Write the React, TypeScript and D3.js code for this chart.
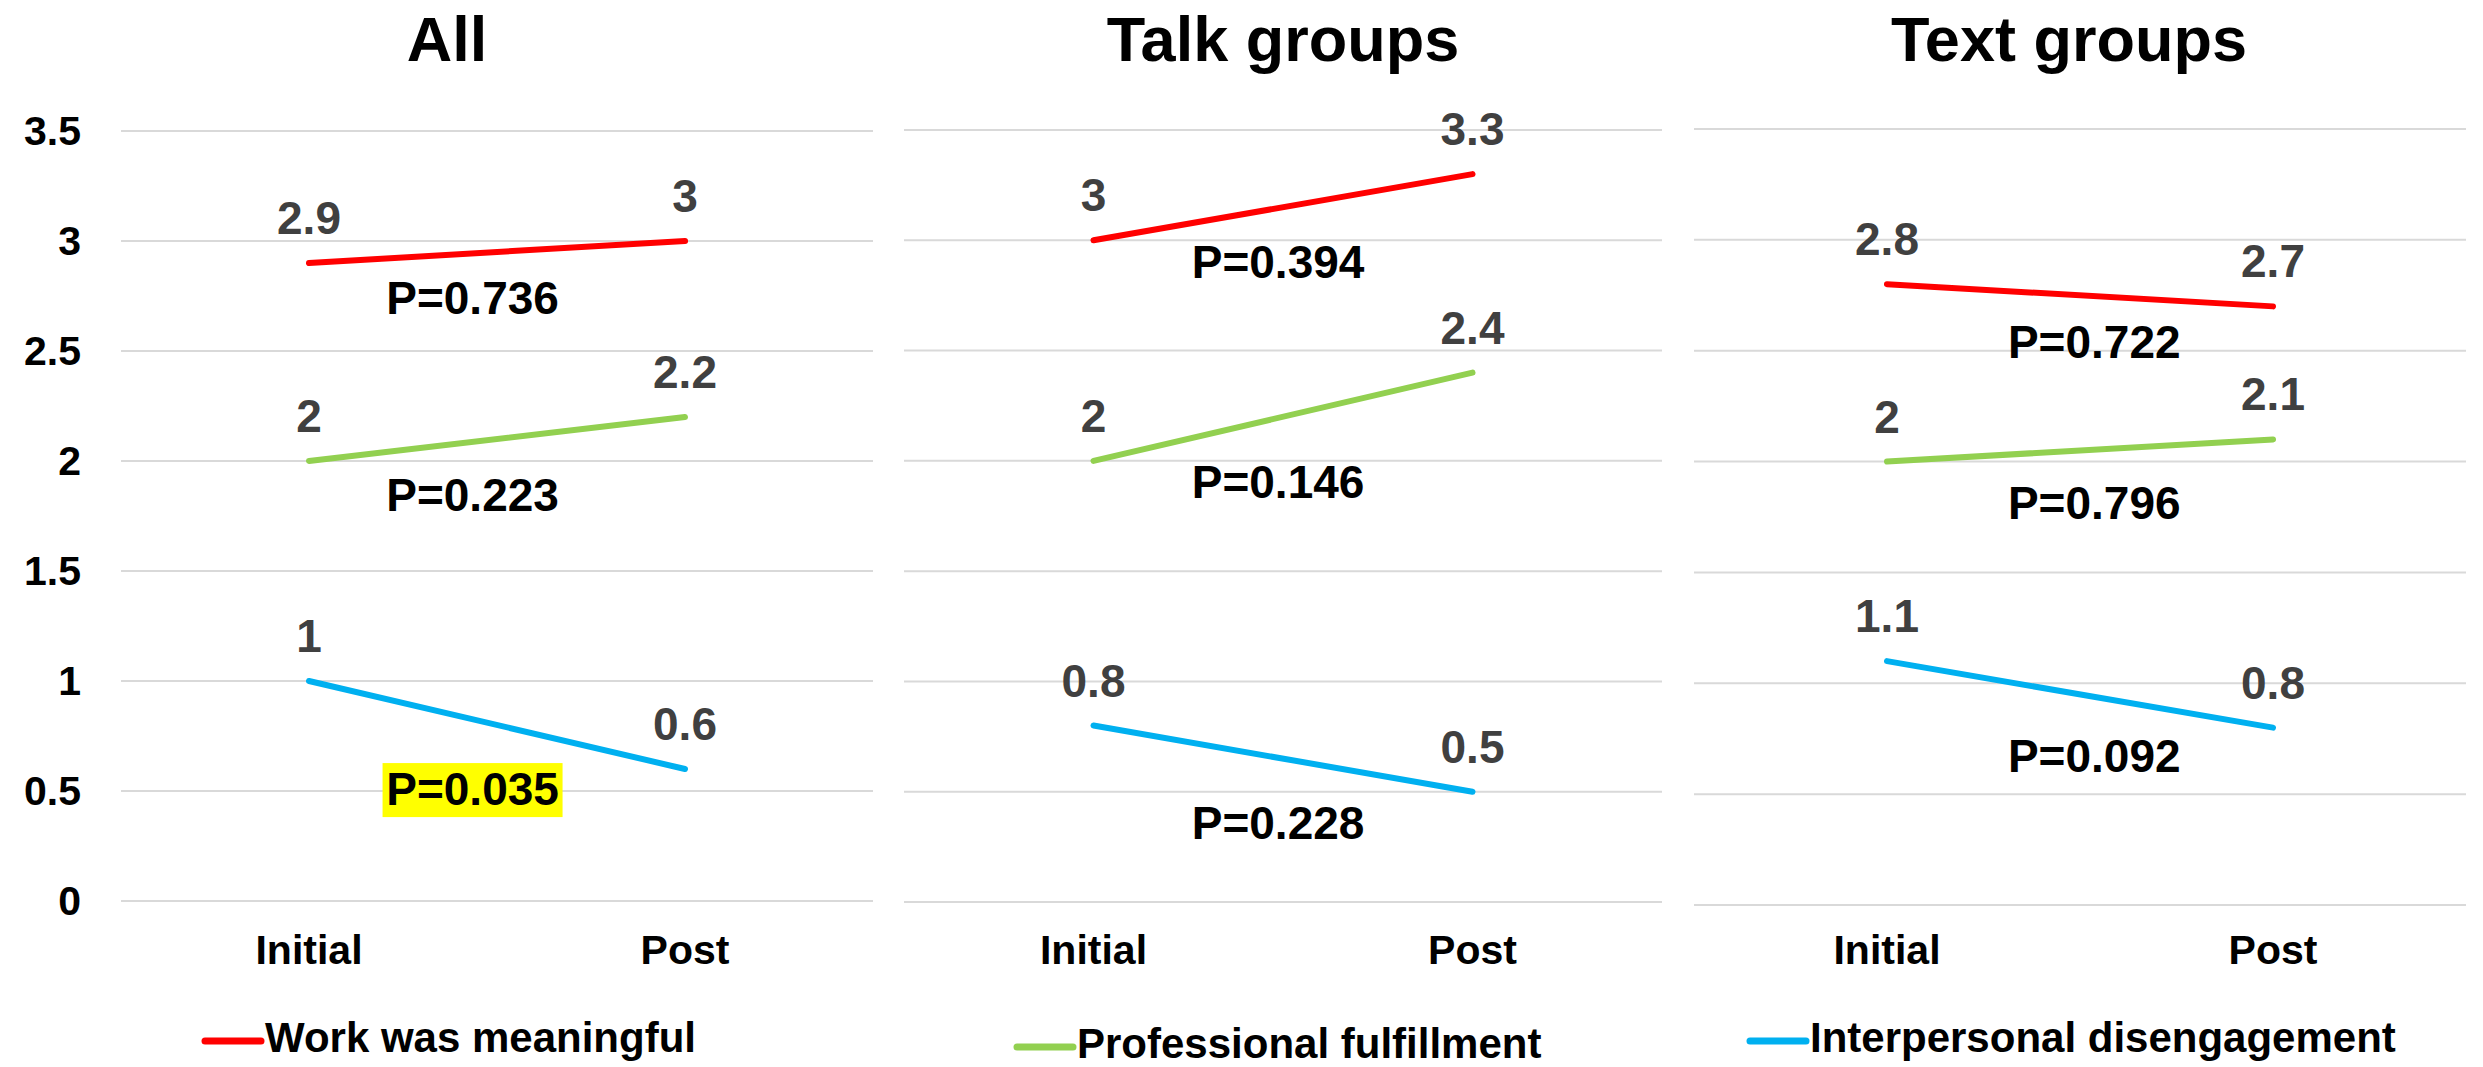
import React from "react";
import * as d3 from "d3";

// ---- data ----
const categories = ["Initial", "Post"];
const panelTitles = ["All", "Talk groups", "Text groups"];
const seriesNames = ["Work was meaningful", "Professional fulfillment", "Interpersonal disengagement"];
const seriesColors = ["#FF0000", "#92D050", "#00B0F0"];

// values per panel: [Initial, Post]
const meaningfulValues = [[2.9, 3], [3, 3.3], [2.8, 2.7]];
const fulfillmentValues = [[2, 2.2], [2, 2.4], [2, 2.1]];
const disengagementValues = [[1, 0.6], [0.8, 0.5], [1.1, 0.8]];

// p-values per panel, in series order
const pValues = [
  [0.736, 0.223, 0.035],
  [0.394, 0.146, 0.228],
  [0.722, 0.796, 0.092],
];

const yTicks = [0, 0.5, 1, 1.5, 2, 2.5, 3, 3.5];

// ---- layout ----
const W = 2483;
const H = 1067;
const FONT = "'Liberation Sans', Arial, Helvetica, sans-serif";

const panels = [
  { left: 121, right: 873, top: 131, bottom: 901, center: 447, legendX: 205, legendY: 1041 },
  { left: 904, right: 1662, top: 130, bottom: 902, center: 1283, legendX: 1017, legendY: 1047 },
  { left: 1694, right: 2466, top: 129, bottom: 905, center: 2069, legendX: 1750, legendY: 1041 },
];

// where each p-value annotation sits: fraction between the two categories, and y in value units (baseline)
const pLabelAnchors = [
  [{ f: 0.435, v: 2.668 }, { f: 0.435, v: 1.773 }, { f: 0.435, v: 0.436 }],
  [{ f: 0.487, v: 2.829 }, { f: 0.487, v: 1.832 }, { f: 0.487, v: 0.286 }],
  [{ f: 0.537, v: 2.467 }, { f: 0.537, v: 1.741 }, { f: 0.537, v: 0.6 }],
];

const fmtTick = (v: number) => (Number.isInteger(v) ? String(v) : v.toFixed(1));

function Panel({ idx }: { idx: number }) {
  const p = panels[idx];
  const x = d3.scalePoint<string>().domain(categories).range([p.left, p.right]).padding(0.5);
  const y = d3.scaleLinear().domain([0, 3.5]).range([p.bottom, p.top]);
  const seriesData = [meaningfulValues[idx], fulfillmentValues[idx], disengagementValues[idx]];
  const line = d3
    .line<number>()
    .x((_, i) => x(categories[i]) as number)
    .y((d) => y(d));

  const x0 = x(categories[0]) as number;
  const x1 = x(categories[1]) as number;

  return (
    <g>
      {/* title */}
      <text x={p.center} y={61} textAnchor="middle" fontFamily={FONT} fontWeight="bold" fontSize={63} fill="#000">
        {panelTitles[idx]}
      </text>

      {/* gridlines */}
      {yTicks.map((t) => (
        <line key={t} x1={p.left} x2={p.right} y1={y(t)} y2={y(t)} stroke="#D9D9D9" strokeWidth={2} />
      ))}

      {/* y-axis labels on first panel only */}
      {idx === 0 &&
        yTicks.map((t) => (
          <text key={t} x={81} y={y(t) + 14} textAnchor="end" fontFamily={FONT} fontWeight="bold" fontSize={41} fill="#000">
            {fmtTick(t)}
          </text>
        ))}

      {/* category labels */}
      {categories.map((c) => (
        <text key={c} x={x(c)} y={964} textAnchor="middle" fontFamily={FONT} fontWeight="bold" fontSize={41} fill="#000">
          {c}
        </text>
      ))}

      {/* series lines */}
      {seriesData.map((vals, s) => (
        <path key={s} d={line(vals) || ""} fill="none" stroke={seriesColors[s]} strokeWidth={6} strokeLinecap="round" />
      ))}

      {/* value labels above points */}
      {seriesData.map((vals, s) =>
        vals.map((v, i) => (
          <text
            key={`${s}-${i}`}
            x={x(categories[i])}
            y={y(v) - 29}
            textAnchor="middle"
            fontFamily={FONT}
            fontWeight="bold"
            fontSize={46}
            fill="#404040"
          >
            {String(v)}
          </text>
        ))
      )}

      {/* p-value annotations */}
      {pValues[idx].map((pv, s) => {
        const a = pLabelAnchors[idx][s];
        const cx = x0 + a.f * (x1 - x0);
        const by = y(a.v);
        const label = `P=${pv.toFixed(3)}`;
        const significant = pv < 0.05;
        return (
          <g key={s}>
            {significant && <rect x={cx - 90} y={by - 42} width={180} height={54} fill="#FFFF00" />}
            <text x={cx} y={by} textAnchor="middle" fontFamily={FONT} fontWeight="bold" fontSize={46} fill="#000">
              {label}
            </text>
          </g>
        );
      })}

      {/* legend entry */}
      <line
        x1={p.legendX}
        x2={p.legendX + 56}
        y1={p.legendY}
        y2={p.legendY}
        stroke={seriesColors[idx]}
        strokeWidth={7}
        strokeLinecap="round"
      />
      <text x={p.legendX + 60} y={p.legendY + 11} fontFamily={FONT} fontWeight="bold" fontSize={42} fill="#000">
        {seriesNames[idx]}
      </text>
    </g>
  );
}

export default function App() {
  return (
    <svg
      width={W}
      height={H}
      viewBox={`0 0 ${W} ${H}`}
      style={{ position: "absolute", left: 0, top: 0, background: "#fff" }}
    >
      <rect x={0} y={0} width={W} height={H} fill="#fff" />
      {panels.map((_, i) => (
        <Panel key={i} idx={i} />
      ))}
    </svg>
  );
}
